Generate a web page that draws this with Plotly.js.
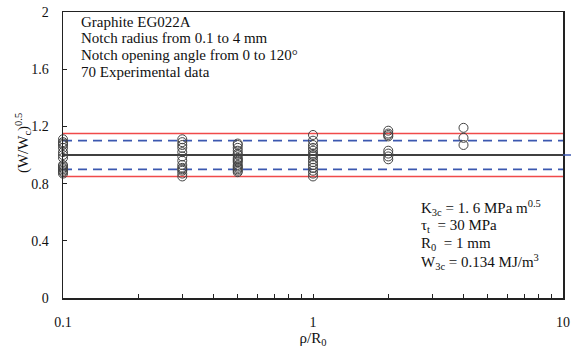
<!DOCTYPE html>
<html>
<head>
<meta charset="utf-8">
<script src="https://cdn.plot.ly/plotly-3.0.1.min.js"></script>
<style>html,body{margin:0;padding:0;background:#fff;}#chart{width:571px;height:348px;}</style>
</head>
<body>
<div id="chart"></div>
<script>
// rho/R0 groups and measured (W/Wc)^0.5 values
const rhoGroups = [0.1, 0.3, 0.5, 1, 2, 4];
const vals_0_1 = [1.11, 1.09, 1.08, 1.07, 1.05, 1.02, 1.0, 0.98, 0.93, 0.92, 0.91, 0.9, 0.89, 0.88, 0.87];
const vals_0_3 = [1.11, 1.09, 1.07, 1.05, 1.02, 0.99, 0.96, 0.93, 0.91, 0.9, 0.89, 0.87, 0.85];
const vals_0_5 = [1.08, 1.07, 1.05, 1.03, 1.01, 1.0, 0.98, 0.97, 0.96, 0.95, 0.93, 0.92, 0.91, 0.9, 0.89, 0.88];
const vals_1 = [1.14, 1.1, 1.07, 1.05, 1.03, 1.01, 1.0, 0.99, 0.97, 0.95, 0.93, 0.91, 0.89, 0.87, 0.85];
const vals_2 = [1.17, 1.15, 1.14, 1.13, 1.03, 1.01, 0.99, 0.97];
const vals_4 = [1.19, 1.12, 1.07];
const groupVals = [vals_0_1, vals_0_3, vals_0_5, vals_1, vals_2, vals_4];

// scatter bands
const meanLine = 1.0;
const band10 = [0.9, 1.1];
const band15 = [0.85, 1.15];

// ticks
const xTickVals = [0.1,0.2,0.3,0.4,0.5,0.6,0.7,0.8,0.9,1,2,3,4,5,6,7,8,9,10];
const xTickText = xTickVals.map(v => (v===0.1?'0.1':v===1?'1':v===10?'10':''));
const yTickVals = [0, 0.4, 0.8, 1.2, 1.6, 2];
const yTickText = ['0','0.4','0.8','1.2','1.6','2'];

// annotation texts
const infoLines = ['Graphite EG022A', 'Notch radius from 0.1 to 4 mm', 'Notch opening angle from 0 to 120°', '70 Experimental data'];
const paramLines = ['K<sub>3c</sub> = 1. 6 MPa m<sup>0.5</sup>', 'τ<sub>t</sub>  = 30 MPa', 'R<sub>0</sub>  = 1 mm', 'W<sub>3c</sub> = 0.134 MJ/m<sup>3</sup>'];

const xs = [], ys = [];
rhoGroups.forEach((r, i) => groupVals[i].forEach(v => { xs.push(r); ys.push(v); }));

const xEnds = [0.1, 10];
const traces = [
  {x: xEnds, y: [band15[0], band15[0]], mode:'lines', line:{color:'#f04a4a', width:1.5}, hoverinfo:'skip'},
  {x: xEnds, y: [band15[1], band15[1]], mode:'lines', line:{color:'#f04a4a', width:1.5}, hoverinfo:'skip'},
  {x: xEnds, y: [band10[0], band10[0]], mode:'lines', line:{color:'#3c58b0', width:1.8, dash:'9px,6px'}, hoverinfo:'skip'},
  {x: xEnds, y: [band10[1], band10[1]], mode:'lines', line:{color:'#3c58b0', width:1.8, dash:'9px,6px'}, hoverinfo:'skip'},
  {x: xEnds, y: [meanLine, meanLine], mode:'lines', line:{color:'#000', width:1.3}, hoverinfo:'skip'},
  {x: xs, y: ys, mode:'markers', cliponaxis:false, marker:{symbol:'circle-open', size:9, color:'#444', line:{width:1, color:'#444'}}}
];

const fam = '"Liberation Serif", "Times New Roman", serif';
const font = {family:fam, size:14, color:'#111'};
const annFont = {family:fam, size:15, color:'#111'};

const infoY = [0.965, 0.909, 0.850, 0.790];
const paramY = [0.315, 0.252, 0.189, 0.126];

const annotations = [
  {xref:'paper', yref:'paper', x:-0.105, y:0.54, text:'(W/W<sub>c</sub>)<sup>0.5</sup>', textangle:-90, showarrow:false, font:{family:fam, size:15, color:'#111'}}
];
infoLines.forEach((t, i) => annotations.push({xref:'paper', yref:'paper', x:0.032, y:infoY[i], xanchor:'left', yanchor:'middle', showarrow:false, font:annFont, text:t}));
paramLines.forEach((t, i) => annotations.push({xref:'paper', yref:'paper', x:0.712, y:paramY[i], xanchor:'left', yanchor:'middle', showarrow:false, font:annFont, text:t}));

const layout = {
  width:571, height:348,
  margin:{l:63, r:8, t:12, b:50},
  paper_bgcolor:'#fff', plot_bgcolor:'#fff',
  showlegend:false,
  font: font,
  xaxis:{
    type:'log', range:[-1, 1], tickvals:xTickVals, ticktext:xTickText,
    ticks:'inside', ticklen:4, tickcolor:'#222', tickwidth:1,
    showline:true, linecolor:'#222', linewidth:1.5, mirror:true,
    showgrid:false, zeroline:false, ticklabelstandoff:11,
    tickfont:font,
    title:{text:'ρ/R<sub>0</sub>', font:{family:fam, size:15, color:'#111'}, standoff:2}
  },
  yaxis:{
    range:[0, 2], tickvals:yTickVals, ticktext:yTickText,
    ticks:'inside', ticklen:4, tickcolor:'#222', tickwidth:1,
    showline:true, linecolor:'#222', linewidth:1.5, mirror:true,
    showgrid:false, zeroline:false, ticklabelstandoff:10,
    tickfont:font
  },
  shapes:[
    {type:'line', xref:'paper', x0:1, x1:1.016, yref:'y', y0:meanLine, y1:meanLine, line:{color:'#3c58b0', width:1.5}}
  ],
  annotations: annotations
};

Plotly.newPlot('chart', traces, layout, {displayModeBar:false, staticPlot:true});
</script>
</body>
</html>
